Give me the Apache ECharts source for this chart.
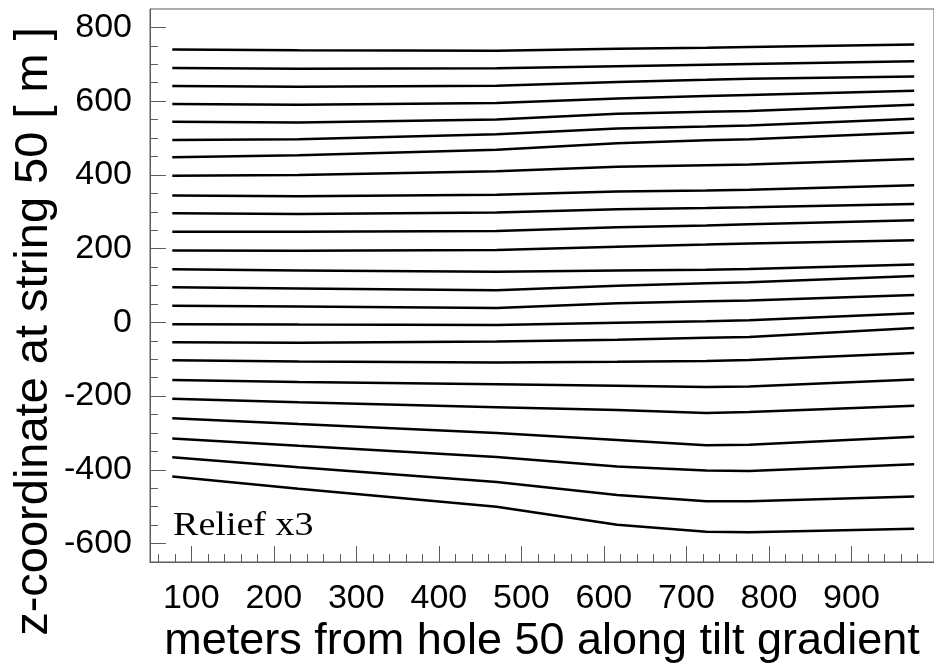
<!DOCTYPE html>
<html>
<head>
<meta charset="utf-8">
<script src="https://cdn.jsdelivr.net/npm/echarts@6/dist/echarts.min.js"></script>
<style>
  html, body { margin: 0; padding: 0; background: #fff; }
  #main { width: 934px; height: 669px; }
</style>
</head>
<body>
<div id="main"></div>
<script>
// x positions (m from hole 50) where the contour lines were read
var xPoints = [77, 230, 470, 616, 724, 776, 976];

// z at string 50 for each contour line, top to bottom
var zLines = [
  [740, 738, 737, 742, 745, 747, 754],
  [690, 688, 689, 695, 699, 701, 708],
  [641, 639, 642, 652, 658, 661, 667],
  [592, 590, 595, 607, 614, 617, 628],
  [544, 542, 550, 566, 571, 573, 590],
  [495, 497, 510, 526, 531, 534, 552],
  [448, 453, 468, 486, 494, 497, 515],
  [398, 400, 410, 422, 426, 428, 443],
  [344, 342, 346, 355, 358, 360, 372],
  [296, 294, 298, 307, 310, 312, 321],
  [246, 246, 248, 258, 263, 266, 277],
  [195, 194, 196, 205, 211, 214, 223],
  [144, 141, 137, 141, 143, 145, 157],
  [95, 92, 87, 99, 106, 109, 126],
  [45, 43, 39, 52, 57, 59, 74],
  [-5, -6, -7, -1, 3, 6, 25],
  [-54, -55, -52, -47, -42, -40, -15],
  [-103, -106, -109, -107, -105, -102, -83],
  [-156, -162, -168, -172, -175, -174, -155],
  [-207, -217, -230, -238, -246, -243, -226],
  [-260, -276, -300, -319, -333, -332, -310],
  [-315, -335, -365, -391, -402, -403, -385],
  [-366, -393, -433, -468, -485, -485, -472],
  [-418, -451, -500, -549, -568, -569, -560]
];

// tick labels / tick positions
var xMajor = [100, 200, 300, 400, 500, 600, 700, 800, 900];
var xMinor = [60, 80, 120, 140, 160, 180, 220, 240, 260, 280, 320, 340, 360, 380,
  420, 440, 460, 480, 520, 540, 560, 580, 620, 640, 660, 680, 720, 740, 760, 780,
  820, 840, 860, 880, 920, 940, 960, 980];
var yMajor = [-600, -400, -200, 0, 200, 400, 600, 800];
var yMinor = [-550, -500, -450, -350, -300, -250, -150, -100, -50, 50, 100, 150,
  250, 300, 350, 450, 500, 550, 650, 700, 750];

var frameColor = '#5c5c5c';
var labelFont = 'Liberation Sans, Arial, sans-serif';

var series = zLines.map(function (zs, i) {
  return {
    name: 'line' + (i + 1),
    type: 'line',
    xAxisIndex: 0,
    yAxisIndex: 0,
    showSymbol: false,
    silent: true,
    lineStyle: { color: '#000', width: 2.5 },
    data: xPoints.map(function (x, j) { return [x, zs[j]]; })
  };
});

var chart = echarts.init(document.getElementById('main'));
chart.setOption({
  animation: false,
  backgroundColor: '#fff',
  grid: {
    left: 150, top: 9, width: 789, height: 556,
    show: true, borderColor: frameColor, borderWidth: 1
  },
  xAxis: [
    {
      type: 'value', min: 50, max: 1000, position: 'bottom',
      axisLine: { show: true, onZero: false, lineStyle: { color: frameColor, width: 1 } },
      axisTick: { show: true, inside: true, length: 8, customValues: xMinor,
        lineStyle: { color: frameColor } },
      axisLabel: { show: false },
      splitLine: { show: false },
      name: 'meters from hole 50 along tilt gradient',
      nameLocation: 'middle',
      nameGap: 57,
      nameTextStyle: { fontSize: 45, color: '#000', fontFamily: labelFont }
    },
    {
      type: 'value', min: 50, max: 1000, position: 'bottom',
      axisLine: { show: false, onZero: false },
      axisTick: { show: true, inside: true, length: 16, customValues: xMajor,
        lineStyle: { color: frameColor } },
      axisLabel: { customValues: xMajor, margin: 20, fontSize: 34, color: '#000',
        fontFamily: labelFont },
      splitLine: { show: false }
    }
  ],
  yAxis: [
    {
      type: 'value', min: -650, max: 850, position: 'left',
      axisLine: { show: true, onZero: false, lineStyle: { color: frameColor, width: 1 } },
      axisTick: { show: true, inside: true, length: 8, customValues: yMinor,
        lineStyle: { color: frameColor } },
      axisLabel: { show: false },
      splitLine: { show: false },
      name: 'z-coordinate at string 50 [ m ]',
      nameLocation: 'middle',
      nameGap: 92,
      nameTextStyle: { fontSize: 47, color: '#000', fontFamily: labelFont,
        padding: [0, 92, 0, 0] }
    },
    {
      type: 'value', min: -650, max: 850, position: 'left',
      axisLine: { show: false, onZero: false },
      axisTick: { show: true, inside: true, length: 16, customValues: yMajor,
        lineStyle: { color: frameColor } },
      axisLabel: { customValues: yMajor, margin: 18, fontSize: 34, color: '#000',
        fontFamily: labelFont },
      splitLine: { show: false }
    }
  ],
  graphic: [
    {
      type: 'text',
      x: 173, y: 526,
      scaleX: 1.12,
      style: {
        text: 'Relief x3',
        x: 0, y: 0,
        align: 'left',
        verticalAlign: 'middle',
        fontSize: 34,
        fontFamily: 'Liberation Serif, Times New Roman, serif',
        fill: '#000'
      }
    }
  ],
  series: series
});
</script>
</body>
</html>
